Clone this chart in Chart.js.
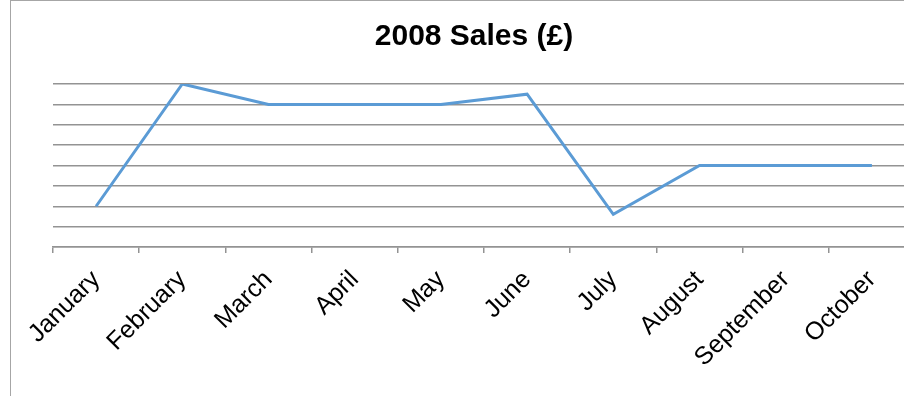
<!DOCTYPE html>
<html>
<head>
<meta charset="utf-8">
<script src="https://cdn.jsdelivr.net/npm/chart.js@4/dist/chart.umd.min.js"></script>
<style>
  html, body { margin: 0; padding: 0; background: #fff; overflow: hidden; }
  body { width: 904px; height: 396px; position: relative; }
  #frame {
    position: absolute; left: 10px; top: 0;
    width: 930px; height: 420px;
    border: 1px solid #a6a6a6; box-sizing: border-box; background: #fff;
  }
  #wrap { position: absolute; left: 0; top: 0; width: 904px; height: 395px; }
</style>
</head>
<body>
<div id="frame"><div id="wrap"><canvas id="c"></canvas></div></div>
<script>
// Monthly sales for 2008
const months = ['January', 'February', 'March', 'April', 'May', 'June',
                'July', 'August', 'September', 'October'];
const sales = [2000, 8000, 7000, 7000, 7000, 7500, 1600, 4000, 4000, 4000];
const yMax = 8000;
const yStep = 1000;

const fontFamily = '"Liberation Sans", Arial, sans-serif';
const gridGrey = '#939393';

new Chart(document.getElementById('c'), {
  type: 'line',
  data: {
    labels: months,
    datasets: [{
      label: 'Sales',
      data: sales,
      borderColor: '#5b9bd5',
      borderWidth: 3,
      pointRadius: 0,
      tension: 0,
      fill: false
    }]
  },
  options: {
    responsive: true,
    maintainAspectRatio: false,
    animation: false,
    layout: { padding: { left: 22, right: 0, top: 0, bottom: 0 } },
    plugins: {
      legend: { display: false },
      tooltip: { enabled: false },
      title: {
        display: true,
        text: '2008 Sales (£)',
        color: '#000',
        font: { family: fontFamily, size: 30, weight: 'bold' },
        padding: { top: 18, bottom: 29 }
      }
    },
    scales: {
      x: {
        offset: true,
        grid: {
          offset: true,
          drawOnChartArea: false,
          drawTicks: true,
          tickLength: 6,
          color: gridGrey,
          lineWidth: 1.5
        },
        border: { display: true, color: gridGrey, width: 1.5 },
        ticks: {
          autoSkip: false,
          minRotation: 45,
          maxRotation: 45,
          padding: 12,
          color: '#000',
          font: { family: fontFamily, size: 25 }
        },
        afterFit: (s) => { s.height = 149; }
      },
      y: {
        min: 0,
        max: yMax,
        grid: { color: gridGrey, lineWidth: 1.5, drawTicks: false },
        border: { display: false },
        ticks: { display: false, stepSize: yStep },
        afterFit: (s) => { s.width = 20; }
      }
    }
  }
});
</script>
</body>
</html>
